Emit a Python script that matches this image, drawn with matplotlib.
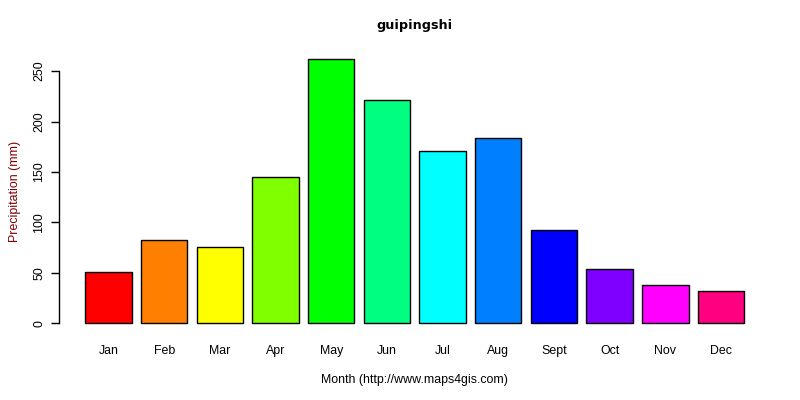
import numpy as np
import matplotlib.pyplot as plt

# monthly precipitation (mm)
months = ['Jan', 'Feb', 'Mar', 'Apr', 'May', 'Jun', 'Jul', 'Aug', 'Sept', 'Oct', 'Nov', 'Dec']
precip = [50.5, 82.2, 75.3, 144.7, 261.6, 221.0, 170.5, 183.3, 92.2, 53.5, 37.7, 31.7]
colors = ['#FF0000', '#FF8000', '#FFFF00', '#80FF00', '#00FF00', '#00FF80',
          '#00FFFF', '#0080FF', '#0000FF', '#8000FF', '#FF00FF', '#FF0080']
yticks = [0, 50, 100, 150, 200, 250]

plt.rcParams['font.family'] = ['Liberation Sans', 'DejaVu Sans']

fig = plt.figure(figsize=(8, 4), dpi=100)
ax = fig.add_axes([0.0737, 0.165, 0.8895, 0.713])

# R barplot layout: width 1, space 0.2
x = 0.2 + 1.2 * np.arange(len(months)) + 0.5
ax.bar(x, precip, width=1.0, color=colors, edgecolor='black', linewidth=1.0)

lo, hi = 0.2, x[-1] + 0.5
ax.set_xlim(lo - 0.04 * (hi - lo), hi + 0.04 * (hi - lo))
ymax = max(precip)
ax.set_ylim(-0.04 * ymax, ymax * 1.04)

for s in ['top', 'right', 'bottom']:
    ax.spines[s].set_visible(False)
ax.spines['left'].set_bounds(0, 250)
ax.spines['left'].set_linewidth(1.0)

fs = 8.9
ax.set_yticks(yticks)
ax.set_yticklabels([str(v) for v in yticks], rotation=90, va='center', fontsize=fs)
ax.tick_params(axis='y', length=6, width=1.0, pad=4)
ax.set_xticks(x)
ax.set_xticklabels(months, fontsize=fs)
ax.tick_params(axis='x', length=0, pad=8)

ax.set_xlabel('Month (http://www.maps4gis.com)', fontsize=fs, labelpad=12)
ax.set_ylabel('Precipitation (mm)', fontsize=fs, color='#800000', labelpad=9)
ax.set_title('guipingshi', fontsize=9.2, fontweight='bold', family='DejaVu Sans', pad=14)

fig.savefig('out.png', dpi=100)
